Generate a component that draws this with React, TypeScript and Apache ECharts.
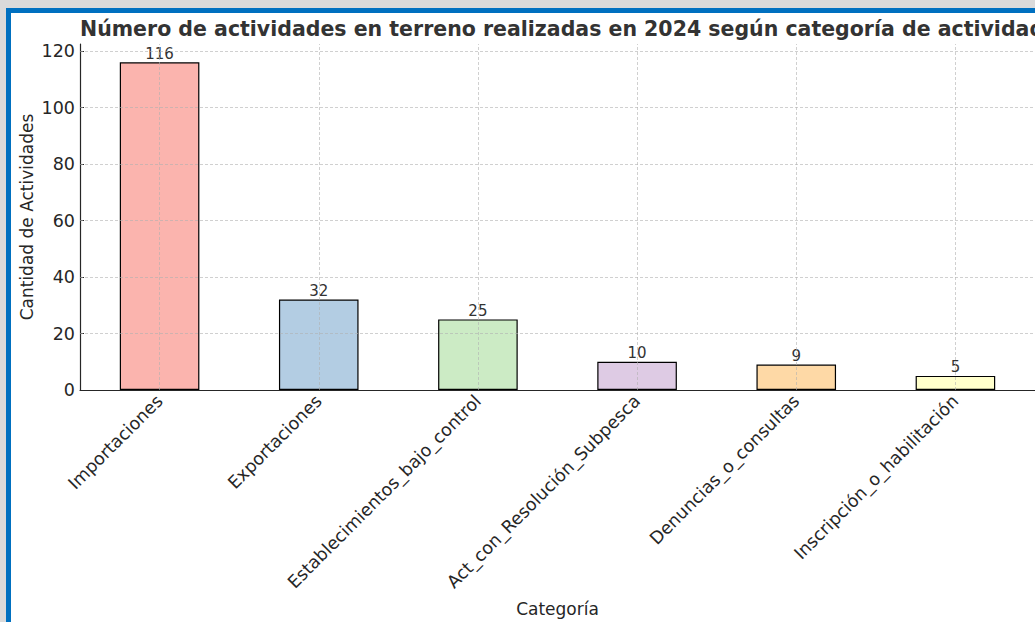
import React, { useEffect, useRef } from "react";
import * as echarts from "echarts";

const categories = [
  "Importaciones",
  "Exportaciones",
  "Establecimientos_bajo_control",
  "Act_con_Resolución_Subpesca",
  "Denuncias_o_consultas",
  "Inscripción_o_habilitación",
];
const values = [116, 32, 25, 10, 9, 5];
const barColors = ["#fbb4ae", "#b3cde3", "#ccebc5", "#decbe4", "#fed9a6", "#ffffcc"];
const yTicks = [0, 20, 40, 60, 80, 100, 120];
const titleText = "Número de actividades en terreno realizadas en 2024 según categoría de actividad";
const xName = "Categoría";
const yName = "Cantidad de Actividades";

const FONT = "DejaVu Sans";
const gridStyle = { type: [3, 2], color: "#b0b0b0", width: 0.8, opacity: 0.75 };

export default function App() {
  const ref = useRef<HTMLDivElement>(null);
  useEffect(() => {
    document.body.style.margin = "0";
    const chart = echarts.init(ref.current!, null, { renderer: "svg" });
    chart.setOption({
      animation: false,
      textStyle: { fontFamily: FONT },
      graphic: [
        {
          type: "text",
          left: 80,
          top: 18,
          style: {
            text: titleText,
            font: `bold 20.5px '${FONT}'`,
            fill: "#333333",
          },
        },
        {
          type: "text",
          x: 27,
          y: 217,
          rotation: Math.PI / 2,
          style: {
            text: yName,
            font: `17px '${FONT}'`,
            fill: "#262626",
            align: "center",
            verticalAlign: "middle",
          },
        },
      ],
      grid: { left: 80, right: 0, top: 44, bottom: 231, containLabel: false },
      xAxis: {
        type: "category",
        data: categories,
        name: xName,
        nameLocation: "middle",
        nameGap: 210,
        nameTextStyle: { fontSize: 17, color: "#262626", fontFamily: FONT },
        axisLine: { lineStyle: { color: "#262626", width: 1.2 } },
        axisTick: { show: true, inside: true, length: 4, alignWithLabel: true, lineStyle: { color: "#262626" } },
        axisLabel: { rotate: 45, fontSize: 17.5, color: "#262626", margin: 8, fontFamily: FONT, interval: 0 },
        splitLine: { show: false },
      },
      yAxis: {
        type: "value",
        min: 0,
        max: 122.5,
        interval: 20,
        axisLine: { show: true, lineStyle: { color: "#262626", width: 1.2 } },
        axisTick: { show: true, inside: true, length: 4, customValues: yTicks, lineStyle: { color: "#262626" } },
        axisLabel: { fontSize: 17.5, color: "#262626", margin: 5, customValues: yTicks, fontFamily: FONT },
        splitLine: { show: false },
      },
      series: [
        {
          type: "bar",
          barWidth: "50%",
          data: values.map((v, i) => ({ value: v, itemStyle: { color: barColors[i] } })),
          itemStyle: { borderColor: "#000000", borderWidth: 1.2 },
          label: { show: true, position: "top", distance: 1, fontSize: 15, color: "#333333", fontFamily: FONT },
          z: 3,
        },
        {
          type: "line",
          data: [],
          z: 5,
          markLine: {
            silent: true,
            symbol: "none",
            label: { show: false },
            lineStyle: gridStyle,
            data: [
              ...categories.map((c) => ({ xAxis: c })),
              ...yTicks.filter((t) => t > 0).map((t) => ({ yAxis: t })),
            ],
          },
        },
      ],
    });
    return () => chart.dispose();
  }, []);
  return (
    <div style={{ position: "fixed", left: 0, top: 0, width: 1035, height: 622, background: "#dadada", overflow: "hidden" }}>
      <div
        style={{
          position: "absolute",
          left: 6,
          top: 8,
          width: 1200,
          height: 800,
          background: "#ffffff",
          borderLeft: "5px solid #0070c0",
          borderTop: "5px solid #0070c0",
        }}
      />
      <div ref={ref} style={{ position: "absolute", left: 0, top: 0, width: 1035, height: 622 }} />
    </div>
  );
}
